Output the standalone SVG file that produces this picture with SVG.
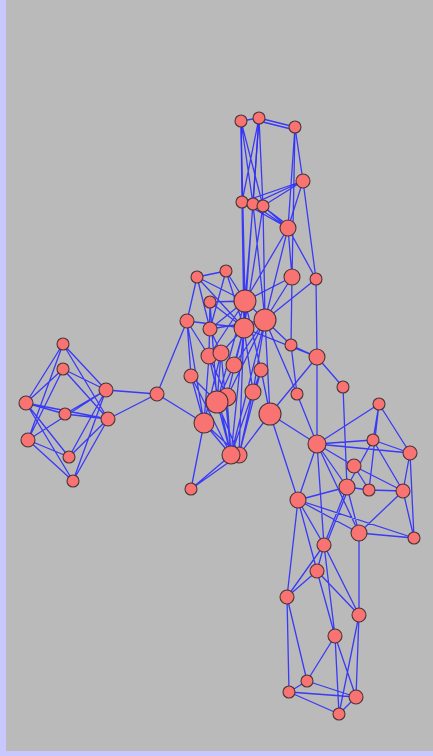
<svg xmlns="http://www.w3.org/2000/svg" width="433" height="756" viewBox="0 0 433 756">
<style>
.e{stroke:#2b2bff;stroke-width:1.3;stroke-opacity:0.9;fill:none}
.n{fill:#f97373;stroke:#4a3535;stroke-width:1.1}
</style>
<rect x="0" y="0" width="433" height="756" fill="#c8c8ff"/>
<rect x="6" y="0" width="427" height="751" fill="#bababa"/>
<g id="connectors" class="e">
<path d="M241,121L259,118M259,118L295,127M259,121L295,130M241,121L242,202M241,121L253,204M241,121L263,206M259,118L242,202M259,118L253,204M259,118L263,206M295,127L303,181M295,127L288,228M303,181L242,202M303,181L253,204M303,181L263,206M303,181L288,228M242,202L288,228M253,204L288,228M263,206L288,228M265,208L289,226"/>
<path d="M241,121L245,301M259,118L244,328M242,202L245,301M253,204L245,301M263,206L244,328M242,202L244,328M253,204L265,320M263,206L265,320M288,228L292,277M288,228L316,279M288,228L245,301M288,228L265,320M295,127L292,277M303,181L316,279"/>
<path d="M197,277L245,301M197,277L210,329M197,277L244,328M226,271L245,301M226,271L244,328M210,302L245,301M210,302L244,328M187,321L209,356M187,321L191,376M187,321L244,328M210,329L245,301M210,329L265,320M245,301L265,320M244,328L265,320M245,301L244,328M292,277L245,301M292,277L265,320M316,279L265,320M292,277L291,345M316,279L317,357M245,301L261,370M244,328L234,365M244,328L253,392M265,320L253,392M265,320L270,414M209,356L227,397M221,353L217,402M234,365L217,402M261,370L270,414M191,376L217,402M227,397L231,455M217,402L231,455M217,402L239,455M204,423L231,455M204,423L239,455M253,392L231,455M253,392L239,455M270,414L239,455M221,353L231,455M209,356L231,455M191,376L231,455M204,423L191,489M231,455L191,489M239,455L191,489M244,328L231,455M245,301L239,455M265,320L231,455M261,370L239,455M265,320L291,345M291,345L317,357M317,357L270,414M316,279L317,357M244,328L317,357M210,302L209,356M197,277L187,321M210,329L221,353M221,353L244,328M209,356L245,301M234,365L265,320M226,271L210,329M187,321L204,423M210,302L217,402M191,376L204,423M209,356L204,423M221,353L204,423M253,392L261,370M227,397L244,328M226,271L197,277M245,301L217,402M244,328L227,397M265,320L227,397"/>
<path d="M63,344L26,403M63,344L28,440M63,344L106,390M63,344L108,419M63,369L26,403M63,369L28,440M63,369L106,390M63,369L108,419M26,403L65,414M26,403L69,457M26,403L73,481M28,440L69,457M28,440L73,481M106,390L69,457M106,390L73,481M108,419L69,457M108,419L73,481M65,414L106,390M65,414L108,419M26,403L108,419M28,440L106,390M106,390L157,394M108,419L157,394M157,394L187,321M157,394L204,423"/>
<path d="M317,357L343,387M317,357L317,444M270,414L317,444M297,394L317,444M270,414L298,500M317,444L298,500M317,444L379,404M317,444L373,440M317,444L410,453M317,444L354,466M317,444L347,487M317,444L359,533M343,387L347,487M379,404L373,440M379,404L410,453M379,404L369,490M373,440L410,453M373,440L347,487M373,440L403,491M410,453L403,491M410,453L414,538M354,466L369,490M354,466L403,491M347,487L369,490M347,487L298,500M347,487L359,533M347,487L324,545M349,487L326,545M369,490L403,491M403,491L359,533M403,491L414,538M298,500L414,538M359,533L414,538M298,500L324,545M298,500L359,533M317,444L324,545M291,345L297,394M265,320L297,394"/>
<path d="M324,545L317,571M324,545L287,597M324,545L359,615M359,533L359,615M317,571L287,597M317,571L359,615M317,571L335,636M298,500L287,597M298,500L317,571M287,597L307,681M287,597L289,692M359,615L356,697M359,615L339,714M335,636L307,681M335,636L356,697M335,636L339,714M307,681L356,697M289,692L356,697M289,692L339,714M307,681L289,692M356,697L339,714M324,545L335,636"/>
</g>
<g id="nodes">
<circle id="t1" class="n" cx="241" cy="121" r="6"/>
<circle id="t2" class="n" cx="259" cy="118" r="6"/>
<circle id="t3" class="n" cx="295" cy="127" r="6"/>
<circle id="t4" class="n" cx="303" cy="181" r="7"/>
<circle id="t5" class="n" cx="242" cy="202" r="6"/>
<circle id="t6" class="n" cx="253" cy="204" r="6"/>
<circle id="t7" class="n" cx="263" cy="206" r="6"/>
<circle id="t8" class="n" cx="288" cy="228" r="8"/>
<circle id="c1" class="n" cx="197" cy="277" r="6"/>
<circle id="c2" class="n" cx="226" cy="271" r="6"/>
<circle id="c3" class="n" cx="292" cy="277" r="8"/>
<circle id="c4" class="n" cx="316" cy="279" r="6"/>
<circle id="c5" class="n" cx="210" cy="302" r="6"/>
<circle id="c6" class="n" cx="245" cy="301" r="11"/>
<circle id="c7" class="n" cx="187" cy="321" r="7"/>
<circle id="c8" class="n" cx="210" cy="329" r="7"/>
<circle id="c9" class="n" cx="244" cy="328" r="10"/>
<circle id="c10" class="n" cx="265" cy="320" r="11"/>
<circle id="c11" class="n" cx="291" cy="345" r="6"/>
<circle id="c12" class="n" cx="317" cy="357" r="8"/>
<circle id="c13" class="n" cx="209" cy="356" r="8"/>
<circle id="c14" class="n" cx="221" cy="353" r="8"/>
<circle id="c15" class="n" cx="234" cy="365" r="8"/>
<circle id="c16" class="n" cx="261" cy="370" r="7"/>
<circle id="c17" class="n" cx="191" cy="376" r="7"/>
<circle id="c18" class="n" cx="253" cy="392" r="8"/>
<circle id="c19" class="n" cx="227" cy="397" r="9"/>
<circle id="c20" class="n" cx="217" cy="402" r="11"/>
<circle id="c21" class="n" cx="270" cy="414" r="11"/>
<circle id="c22" class="n" cx="204" cy="423" r="10"/>
<circle id="c24" class="n" cx="239" cy="455" r="8"/>
<circle id="c23" class="n" cx="231" cy="455" r="9"/>
<circle id="c25" class="n" cx="191" cy="489" r="6"/>
<circle id="c26" class="n" cx="157" cy="394" r="7"/>
<circle id="l1" class="n" cx="63" cy="344" r="6"/>
<circle id="l2" class="n" cx="63" cy="369" r="6"/>
<circle id="l3" class="n" cx="26" cy="403" r="7"/>
<circle id="l4" class="n" cx="65" cy="414" r="6"/>
<circle id="l5" class="n" cx="106" cy="390" r="7"/>
<circle id="l6" class="n" cx="108" cy="419" r="7"/>
<circle id="l7" class="n" cx="28" cy="440" r="7"/>
<circle id="l8" class="n" cx="69" cy="457" r="6"/>
<circle id="l9" class="n" cx="73" cy="481" r="6"/>
<circle id="r1" class="n" cx="297" cy="394" r="6"/>
<circle id="r2" class="n" cx="343" cy="387" r="6"/>
<circle id="r3" class="n" cx="379" cy="404" r="6"/>
<circle id="r4" class="n" cx="317" cy="444" r="9"/>
<circle id="r5" class="n" cx="373" cy="440" r="6"/>
<circle id="r6" class="n" cx="410" cy="453" r="7"/>
<circle id="r7" class="n" cx="354" cy="466" r="7"/>
<circle id="r8" class="n" cx="347" cy="487" r="8"/>
<circle id="r9" class="n" cx="369" cy="490" r="6"/>
<circle id="r10" class="n" cx="403" cy="491" r="7"/>
<circle id="r11" class="n" cx="298" cy="500" r="8"/>
<circle id="r12" class="n" cx="359" cy="533" r="8"/>
<circle id="r13" class="n" cx="414" cy="538" r="6"/>
<circle id="r14" class="n" cx="324" cy="545" r="7"/>
<circle id="b1" class="n" cx="317" cy="571" r="7"/>
<circle id="b2" class="n" cx="287" cy="597" r="7"/>
<circle id="b3" class="n" cx="359" cy="615" r="7"/>
<circle id="b4" class="n" cx="335" cy="636" r="7"/>
<circle id="b5" class="n" cx="307" cy="681" r="6"/>
<circle id="b6" class="n" cx="289" cy="692" r="6"/>
<circle id="b7" class="n" cx="356" cy="697" r="7"/>
<circle id="b8" class="n" cx="339" cy="714" r="6"/>
</g>
</svg>
